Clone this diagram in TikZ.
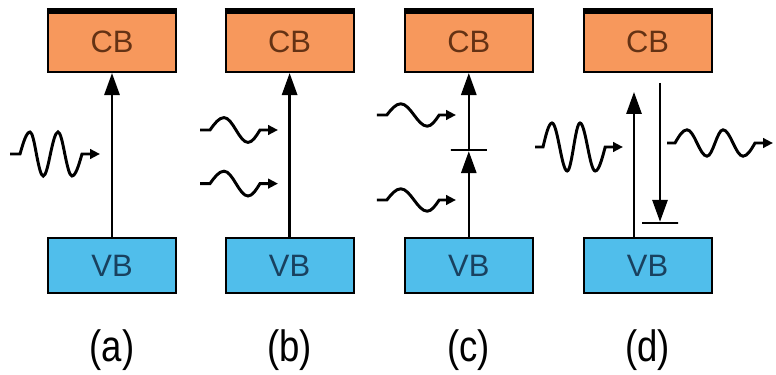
\documentclass[tikz,border=0pt]{standalone}
\usepackage{fontspec}
\setmainfont{Liberation Sans}
\usetikzlibrary{arrows.meta}
\definecolor{cborange}{RGB}{247,152,92}
\definecolor{vbblue}{RGB}{80,190,235}
\definecolor{cbtext}{RGB}{100,50,20}
\definecolor{vbtext}{RGB}{25,65,95}
\tikzset{
	cbbox/.style={draw, line width=1.5pt, fill=cborange, text=cbtext, minimum width=3.2cm, minimum height=1.5cm, font=\fontsize{22}{24}\selectfont},
	vbbox/.style={draw, line width=1.5pt, fill=vbblue, text=vbtext, minimum width=3.2cm, minimum height=1.375cm, font=\fontsize{22}{24}\selectfont},
	lbl/.style={font=\fontsize{26}{30}\selectfont},
	jump/.style={line width=1.7pt, -{Triangle[length=0.55cm,width=0.38cm]}},
	levelbar/.style={draw, line width=1.7pt, minimum width=0.9cm, minimum height=0pt, inner sep=0pt},
	photon/.style={line width=2.1pt, -{Triangle[length=0.25cm,width=0.24cm]}}
}
\begin{document}
\begin{tikzpicture}
	\useasboundingbox (0,0) rectangle (19.4,9.35);
	\foreach \x/\n in {2.8/a, 7.24/b, 11.72/c, 16.19/d}
	{
		\node[cbbox] (cb\n) at (\x, 8.3) {CB};
		\draw[line width=4pt] (cb\n.north west) -- (cb\n.north east);
		\node[vbbox] (vb\n) at (\x, 2.71) {VB};
		\node[lbl] (lbl\n) at (\x, 0.6) {\scalebox{1}[1.2]{(\n)}};
	}

	% (a) one photon
	\draw[jump] (vba.north) -- (cba.south);
	\draw[photon] (0.25,5.5) -- ++(0.25,0) sin ++(0.25,0.55) cos ++(0.16,-0.55) sin ++(0.17,-0.55) cos ++(0.18,0.55)
		sin ++(0.19,0.55) cos ++(0.17,-0.55) sin ++(0.18,-0.55) cos ++(0.25,0.55) -- ++(0.45,0);

	% (b) two photons
	\draw[jump] (vbb.north) -- (cbb.south);
	\foreach \y in {6.1, 4.76}
	{
		\draw[photon] (5.0,\y) -- ++(0.25,0) sin ++(0.35,0.31) cos ++(0.3,-0.31) sin ++(0.3,-0.31) cos ++(0.3,0.31) -- ++(0.45,0);
	}

	% (c) two steps
	\node[levelbar] (barc) at (11.72, 5.6) {};
	\draw[jump] (vbc.north) -- (barc);
	\draw[jump] (barc) -- (cbc.south);
	\foreach \y in {6.475, 4.35}
	{
		\draw[photon] (9.42,\y) -- ++(0.25,0) sin ++(0.35,0.28) cos ++(0.33,-0.28) sin ++(0.33,-0.28) cos ++(0.3,0.28) -- ++(0.42,0);
	}

	% (d) up and down
	\coordinate (upd) at (15.85, 7.05);
	\coordinate (dnd) at (16.5, 7.275);
	\node[levelbar] (bard) at (16.5, 3.775) {};
	\draw[jump] (vbd.north -| upd) -- (upd);
	\draw[jump] (dnd) -- (bard);
	\draw[photon] (13.375,5.675) -- ++(0.2,0) sin ++(0.225,0.6) cos ++(0.19,-0.6) sin ++(0.19,-0.6) cos ++(0.16,0.6)
		sin ++(0.16,0.6) cos ++(0.19,-0.6) sin ++(0.19,-0.6) cos ++(0.25,0.6) -- ++(0.445,0);
	\draw[photon] (16.675,5.775) -- ++(0.2,0) sin ++(0.3,0.33) cos ++(0.25,-0.33) sin ++(0.25,-0.33) cos ++(0.2,0.33)
		sin ++(0.2,0.33) cos ++(0.25,-0.33) sin ++(0.25,-0.33) cos ++(0.3,0.33) -- ++(0.45,0);

\end{tikzpicture}
\end{document}
